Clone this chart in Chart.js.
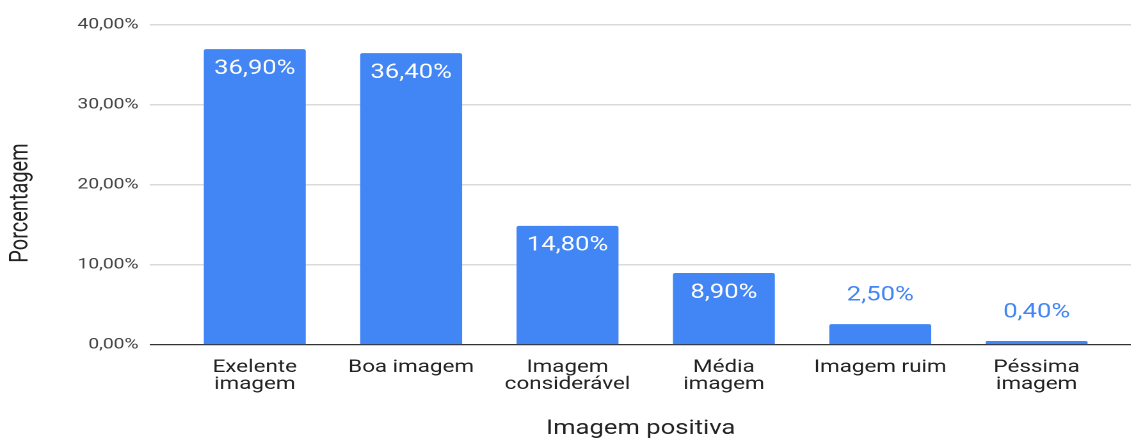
<!DOCTYPE html>
<html lang="pt">
<head>
<meta charset="utf-8">
<script src="https://cdn.jsdelivr.net/npm/chart.js@4/dist/chart.umd.min.js"></script>
<style>
  html, body { margin: 0; padding: 0; background: #fff; overflow: hidden; }
  #wrap { width: 884px; height: 439px; transform: scaleX(1.28); transform-origin: 0 0; }
  #c { width: 884px; height: 439px; display: block; }
</style>
</head>
<body>
<div id="wrap"><canvas id="c" width="884" height="439"></canvas></div>
<script>
// Percentual por categoria de imagem
const categories = [
  ['Exelente', 'imagem'],
  'Boa imagem',
  ['Imagem', 'considerável'],
  ['Média', 'imagem'],
  'Imagem ruim',
  ['Péssima', 'imagem']
];
const values = [36.9, 36.4, 14.8, 8.9, 2.5, 0.4];
const valueLabels = ['36,90%', '36,40%', '14,80%', '8,90%', '2,50%', '0,40%'];
const yTicks = [0, 10, 20, 30, 40];
const yTickLabels = ['0,00%', '10,00%', '20,00%', '30,00%', '40,00%'];
const xTitle = 'Imagem positiva';
const yTitle = 'Porcentagem';

const BLUE = '#4285F4';
const FONT = 'Roboto, "Liberation Sans", Arial, sans-serif';

// Rótulos de valor: dentro da barra (branco) ou acima dela (azul)
const valueLabelPlugin = {
  id: 'valueLabels',
  afterDatasetsDraw(chart) {
    const ctx = chart.ctx;
    const meta = chart.getDatasetMeta(0);
    ctx.save();
    ctx.font = '20px ' + FONT;
    ctx.textAlign = 'center';
    ctx.textBaseline = 'alphabetic';
    meta.data.forEach((bar, i) => {
      const inside = values[i] >= 5;
      ctx.fillStyle = inside ? '#ffffff' : BLUE;
      const y = inside ? bar.y + 24.5 : bar.y - 24;
      ctx.fillText(valueLabels[i], bar.x, y);
    });
    ctx.restore();
  }
};

// Título do eixo vertical
const yTitlePlugin = {
  id: 'yTitle',
  afterDraw(chart) {
    const ctx = chart.ctx;
    ctx.save();
    ctx.translate(16.4, 203);
    ctx.rotate(-Math.PI / 2);
    ctx.font = '20px ' + FONT;
    ctx.fillStyle = '#222';
    ctx.textAlign = 'center';
    ctx.textBaseline = 'middle';
    ctx.fillText(yTitle, 0, 0);
    ctx.restore();
  }
};

new Chart(document.getElementById('c'), {
  type: 'bar',
  data: {
    datasets: [{
      data: values.map((v, i) => ({ x: i, y: v })),
      backgroundColor: BLUE,
      borderRadius: 2,
      borderSkipped: 'bottom',
      barThickness: 79
    }]
  },
  options: {
    responsive: false,
    maintainAspectRatio: false,
    devicePixelRatio: 2,
    animation: false,
    layout: { padding: { top: 24.7, right: 0, bottom: 0, left: 0 } },
    plugins: { legend: { display: false }, tooltip: { enabled: false } },
    scales: {
      x: {
        type: 'linear',
        offset: false,
        min: -0.670,
        max: 5.607,
        afterBuildTicks(scale) {
          scale.ticks = categories.map((_, i) => ({ value: i }));
        },
        afterFit(scale) { scale.height = 94.5; },
        grid: { display: false, offset: false },
        border: { display: false },
        ticks: {
          autoSkip: false,
          maxRotation: 0,
          padding: 6.5,
          color: '#222',
          font: { family: FONT, size: 17.5, lineHeight: 0.97 },
          callback: (v) => categories[v]
        },
        title: {
          display: true,
          text: xTitle,
          color: '#222',
          font: { family: FONT, size: 20, lineHeight: 1 },
          padding: { top: 0, bottom: 0 }
        }
      },
      y: {
        min: 0,
        max: 40,
        afterBuildTicks(scale) {
          scale.ticks = yTicks.map(v => ({ value: v }));
        },
        afterFit(scale) { scale.width = 117.2; },
        border: { display: false },
        grid: {
          drawTicks: false,
          lineWidth: (c) => c.tick && c.tick.value === 0 ? 1.3 : 1.5,
          color: (c) => c.tick && c.tick.value === 0 ? '#333333' : '#dadada'
        },
        ticks: {
          padding: 9,
          color: '#444',
          font: { family: FONT, size: 15 },
          callback: (v) => yTickLabels[yTicks.indexOf(v)]
        }
      }
    }
  },
  plugins: [valueLabelPlugin, yTitlePlugin]
});
</script>
</body>
</html>
